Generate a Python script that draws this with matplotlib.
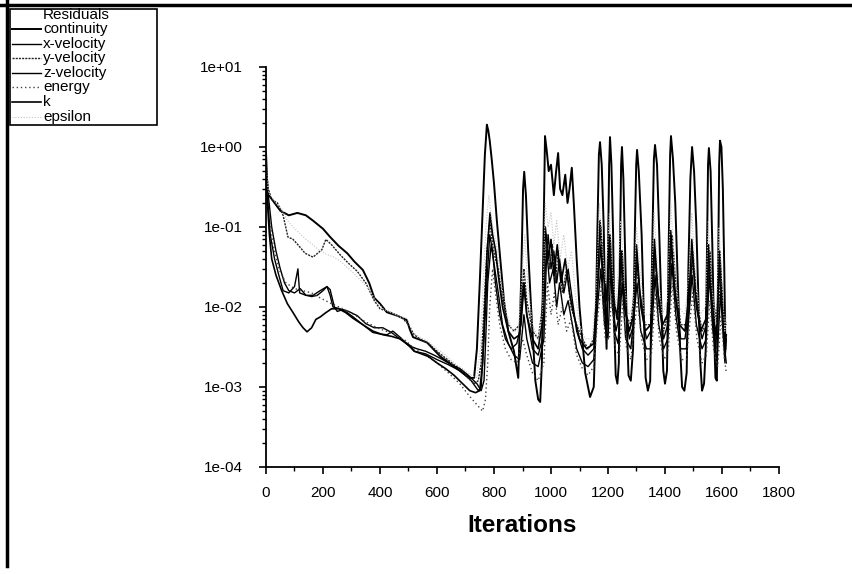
import matplotlib
matplotlib.use("Agg")
import matplotlib.pyplot as plt
from matplotlib.lines import Line2D
from matplotlib.patches import Rectangle
from matplotlib.ticker import LogLocator, FixedLocator, FuncFormatter, NullFormatter

plt.rcParams['font.family'] = ['Liberation Sans', 'DejaVu Sans']

# ---- residual histories (iteration, residual) ----
continuity_it = [0, 5, 10, 30, 50, 80, 110, 140, 165, 200, 225, 255, 285, 310, 340, 362, 380, 400,
                 424, 460, 494, 505, 516, 540, 565, 590, 612, 635, 660, 690, 715, 730, 740, 750, 760,
                 768, 775, 780, 785, 792, 800, 810, 822, 835, 850, 870, 885, 895, 902, 906, 912, 920,
                 930, 945, 955, 962, 968, 973, 979, 985, 992, 1000, 1010, 1018, 1025, 1032, 1040,
                 1050, 1058, 1065, 1073, 1080, 1090, 1100, 1120, 1137, 1150, 1157, 1163, 1168, 1172,
                 1178, 1185, 1190, 1195, 1200, 1204, 1207, 1212, 1218, 1222, 1227, 1233, 1238, 1242,
                 1246, 1249, 1254, 1260, 1266, 1272, 1280, 1288, 1294, 1299, 1302, 1308, 1318, 1326,
                 1332, 1340, 1348, 1355, 1361, 1365, 1372, 1380, 1388, 1394, 1400, 1407, 1413, 1418,
                 1421, 1428, 1436, 1445, 1453, 1460, 1468, 1476, 1482, 1489, 1495, 1502, 1510, 1518,
                 1524, 1530, 1537, 1543, 1548, 1551, 1554, 1560, 1566, 1572, 1577, 1582, 1586, 1590,
                 1593, 1598, 1603, 1608, 1612]
continuity = [0.85, 0.3, 0.25, 0.2, 0.16, 0.14, 0.15, 0.14, 0.12, 0.095, 0.075, 0.058, 0.047, 0.037,
              0.029, 0.02, 0.013, 0.011, 0.0086, 0.0078, 0.0069, 0.0052, 0.0042, 0.0039, 0.0036,
              0.0029, 0.0024, 0.0021, 0.0018, 0.0015, 0.0013, 0.0013, 0.003, 0.02, 0.15, 0.8, 1.9,
              1.6, 1.2, 0.7, 0.35, 0.12, 0.04, 0.012, 0.005, 0.0028, 0.0013, 0.02, 0.3, 0.49, 0.25,
              0.05, 0.01, 0.0012, 0.0007, 0.00065, 0.002, 0.05, 1.37, 0.9, 0.5, 0.6, 0.25, 0.5, 0.84,
              0.3, 0.25, 0.45, 0.2, 0.3, 0.55, 0.2, 0.04, 0.01, 0.0015, 0.00075, 0.001, 0.006, 0.1,
              0.8, 1.15, 0.6, 0.1, 0.01, 0.003, 0.05, 0.6, 1.33, 0.6, 0.08, 0.006, 0.0014, 0.0011,
              0.002, 0.05, 0.6, 1.0, 0.4, 0.05, 0.006, 0.0014, 0.0012, 0.003, 0.08, 0.6, 0.92, 0.5,
              0.08, 0.008, 0.0013, 0.0009, 0.0012, 0.05, 0.7, 1.06, 0.6, 0.08, 0.008, 0.0016, 0.0011,
              0.0016, 0.06, 0.8, 1.37, 0.7, 0.2, 0.02, 0.003, 0.001, 0.0009, 0.0015, 0.03, 0.4, 1.0,
              0.5, 0.1, 0.01, 0.002, 0.0009, 0.0011, 0.003, 0.08, 0.6, 0.97, 0.5, 0.06, 0.005, 0.0013,
              0.0012, 0.02, 0.6, 1.2, 1.0, 0.3, 0.03, 0.003]

xvel_it = [0, 5, 15, 30, 45, 60, 80, 100, 112, 118, 140, 165, 190, 214, 225, 235, 260, 285, 306, 340,
           375, 400, 425, 445, 470, 500, 520, 560, 600, 640, 680, 720, 745, 755, 765, 775, 785, 795,
           805, 820, 840, 860, 880, 895, 906, 915, 935, 955, 970, 980, 990, 1000, 1010, 1020, 1030,
           1045, 1060, 1075, 1090, 1110, 1130, 1150, 1165, 1175, 1185, 1195, 1207, 1215, 1228, 1240,
           1250, 1260, 1275, 1290, 1302, 1315, 1335, 1350, 1365, 1378, 1395, 1410, 1422, 1435, 1455,
           1470, 1485, 1497, 1510, 1530, 1545, 1555, 1565, 1578, 1590, 1600, 1610, 1615]
xvel = [0.5, 0.25, 0.08, 0.04, 0.025, 0.016, 0.015, 0.018, 0.03, 0.015, 0.014, 0.014, 0.016, 0.018,
        0.014, 0.01, 0.0095, 0.0085, 0.0075, 0.006, 0.0048, 0.0046, 0.0045, 0.005, 0.0042, 0.0033,
        0.0028, 0.0026, 0.0022, 0.0019, 0.0016, 0.0012, 0.0009, 0.001, 0.004, 0.02, 0.08, 0.05, 0.02,
        0.008, 0.004, 0.003, 0.0035, 0.006, 0.02, 0.008, 0.003, 0.0025, 0.004, 0.03, 0.08, 0.03, 0.05,
        0.02, 0.04, 0.015, 0.03, 0.012, 0.005, 0.003, 0.0025, 0.003, 0.02, 0.06, 0.01, 0.006, 0.05,
        0.01, 0.005, 0.008, 0.05, 0.01, 0.004, 0.006, 0.04, 0.01, 0.004, 0.005, 0.05, 0.012, 0.004,
        0.006, 0.06, 0.015, 0.004, 0.004, 0.01, 0.05, 0.01, 0.004, 0.006, 0.04, 0.008, 0.003, 0.03,
        0.01, 0.002, 0.004]

yvel_it = [0, 8, 20, 40, 60, 77, 95, 112, 137, 165, 196, 210, 230, 260, 290, 320, 350, 380, 400, 420,
           440, 460, 480, 500, 520, 540, 570, 600, 630, 660, 690, 710, 730, 745, 755, 765, 775, 785,
           795, 805, 815, 830, 850, 870, 890, 905, 915, 935, 955, 970, 985, 995, 1005, 1015, 1025,
           1040, 1055, 1070, 1090, 1110, 1130, 1150, 1165, 1175, 1188, 1200, 1210, 1222, 1235, 1250,
           1262, 1280, 1300, 1312, 1330, 1350, 1365, 1378, 1395, 1410, 1425, 1438, 1455, 1475, 1490,
           1500, 1512, 1530, 1545, 1558, 1570, 1585, 1595, 1605, 1615]
yvel = [0.6, 0.3, 0.22, 0.2, 0.14, 0.075, 0.07, 0.06, 0.047, 0.042, 0.052, 0.07, 0.06, 0.045, 0.035,
        0.028, 0.02, 0.012, 0.0095, 0.009, 0.0085, 0.0078, 0.0072, 0.006, 0.0045, 0.004, 0.0035,
        0.0028, 0.0023, 0.0019, 0.0016, 0.0013, 0.0011, 0.0012, 0.002, 0.01, 0.05, 0.12, 0.06, 0.04,
        0.03, 0.012, 0.006, 0.005, 0.006, 0.03, 0.012, 0.005, 0.004, 0.01, 0.08, 0.03, 0.06, 0.02,
        0.05, 0.015, 0.03, 0.01, 0.006, 0.004, 0.003, 0.004, 0.03, 0.1, 0.02, 0.012, 0.04, 0.01,
        0.008, 0.03, 0.008, 0.006, 0.03, 0.015, 0.006, 0.006, 0.04, 0.01, 0.005, 0.008, 0.08, 0.02,
        0.006, 0.006, 0.02, 0.04, 0.012, 0.005, 0.006, 0.05, 0.012, 0.005, 0.03, 0.008, 0.006]

zvel_it = [0, 8, 20, 35, 50, 65, 80, 100, 120, 140, 160, 180, 200, 214, 225, 240, 250, 270, 290, 320,
           350, 380, 410, 440, 470, 500, 530, 560, 590, 620, 650, 680, 710, 740, 755, 765, 772, 778,
           790, 800, 815, 830, 850, 870, 890, 905, 915, 935, 955, 975, 985, 995, 1008, 1020, 1030,
           1045, 1060, 1075, 1090, 1110, 1130, 1150, 1165, 1175, 1188, 1200, 1210, 1222, 1235, 1250,
           1262, 1280, 1302, 1315, 1335, 1350, 1365, 1378, 1395, 1410, 1424, 1438, 1455, 1475, 1495,
           1510, 1530, 1545, 1556, 1568, 1582, 1595, 1605, 1615]
zvel = [0.4, 0.25, 0.1, 0.05, 0.03, 0.02, 0.016, 0.015, 0.017, 0.014, 0.0135, 0.014, 0.016, 0.018,
        0.0165, 0.01, 0.0088, 0.0093, 0.0088, 0.0078, 0.0062, 0.0055, 0.0055, 0.0048, 0.004, 0.0033,
        0.003, 0.0028, 0.0025, 0.0022, 0.0019, 0.0017, 0.0014, 0.0011, 0.0009, 0.0012, 0.005, 0.02,
        0.06, 0.035, 0.015, 0.006, 0.0035, 0.0025, 0.0022, 0.008, 0.004, 0.002, 0.0018, 0.004, 0.05,
        0.02, 0.03, 0.01, 0.02, 0.008, 0.012, 0.006, 0.003, 0.002, 0.0018, 0.0022, 0.012, 0.03, 0.006,
        0.004, 0.03, 0.005, 0.0035, 0.02, 0.004, 0.003, 0.02, 0.005, 0.003, 0.003, 0.025, 0.006,
        0.003, 0.004, 0.035, 0.008, 0.003, 0.003, 0.025, 0.006, 0.003, 0.004, 0.025, 0.005, 0.002,
        0.015, 0.004, 0.002]

energy_it = [0, 10, 25, 45, 70, 100, 130, 160, 190, 230, 270, 310, 350, 390, 420, 450, 490, 520, 560,
             600, 640, 680, 710, 740, 760, 770, 778, 785, 795, 805, 820, 840, 860, 880, 900, 915, 935,
             955, 975, 988, 1000, 1012, 1025, 1040, 1055, 1070, 1090, 1110, 1130, 1150, 1165, 1177,
             1190, 1205, 1212, 1225, 1240, 1252, 1265, 1280, 1303, 1318, 1335, 1352, 1367, 1380, 1398,
             1412, 1425, 1440, 1458, 1475, 1497, 1512, 1530, 1545, 1557, 1570, 1585, 1597, 1607, 1615]
energy = [0.3, 0.15, 0.06, 0.03, 0.02, 0.017, 0.016, 0.015, 0.013, 0.011, 0.0095, 0.008, 0.0065,
          0.0055, 0.005, 0.0045, 0.0038, 0.003, 0.0025, 0.002, 0.0015, 0.0011, 0.0008, 0.0006, 0.0005,
          0.0007, 0.002, 0.01, 0.03, 0.015, 0.006, 0.003, 0.0022, 0.002, 0.004, 0.0025, 0.0015, 0.0012,
          0.002, 0.02, 0.008, 0.015, 0.006, 0.01, 0.005, 0.007, 0.0025, 0.0017, 0.0014, 0.0018, 0.008,
          0.02, 0.004, 0.004, 0.015, 0.003, 0.0025, 0.012, 0.003, 0.0022, 0.012, 0.004, 0.0022, 0.0025,
          0.015, 0.004, 0.0022, 0.003, 0.02, 0.005, 0.0022, 0.0022, 0.015, 0.004, 0.002, 0.0025, 0.012,
          0.003, 0.0018, 0.008, 0.0025, 0.0015]

k_it = [0, 5, 12, 20, 35, 55, 75, 95, 115, 130, 144, 160, 175, 190, 210, 230, 255, 280, 306, 340, 375,
        410, 440, 470, 505, 520, 545, 570, 600, 630, 660, 690, 715, 735, 750, 760, 768, 776, 786, 795,
        806, 815, 830, 850, 870, 890, 904, 915, 935, 955, 968, 980, 990, 1000, 1010, 1022, 1035, 1050,
        1065, 1080, 1100, 1125, 1150, 1163, 1172, 1182, 1195, 1207, 1218, 1232, 1247, 1258, 1275,
        1290, 1300, 1312, 1330, 1350, 1363, 1375, 1392, 1408, 1420, 1432, 1450, 1470, 1485, 1494,
        1506, 1525, 1543, 1553, 1565, 1580, 1592, 1602, 1610, 1615]
k = [0.3, 0.2, 0.08, 0.04, 0.025, 0.016, 0.011, 0.0085, 0.0065, 0.0055, 0.0049, 0.0055, 0.007, 0.0075,
     0.0085, 0.0095, 0.0095, 0.0085, 0.0072, 0.006, 0.005, 0.0045, 0.0043, 0.004, 0.0033, 0.0028,
     0.0026, 0.0024, 0.002, 0.0017, 0.0014, 0.0011, 0.0009, 0.00085, 0.0009, 0.002, 0.01, 0.05, 0.15,
     0.08, 0.05, 0.025, 0.01, 0.005, 0.004, 0.0045, 0.02, 0.008, 0.004, 0.003, 0.006, 0.1, 0.04, 0.07,
     0.025, 0.06, 0.02, 0.04, 0.015, 0.008, 0.004, 0.003, 0.0035, 0.02, 0.12, 0.03, 0.012, 0.08,
     0.015, 0.007, 0.05, 0.01, 0.005, 0.008, 0.06, 0.015, 0.005, 0.006, 0.07, 0.015, 0.006, 0.008,
     0.09, 0.02, 0.006, 0.005, 0.015, 0.07, 0.015, 0.005, 0.007, 0.06, 0.012, 0.004, 0.05, 0.01, 0.003,
     0.0045]

epsilon_it = [0, 4, 10, 20, 35, 55, 75, 95, 115, 140, 165, 190, 215, 240, 270, 300, 330, 360, 385, 410,
              440, 470, 495, 515, 540, 570, 600, 630, 660, 690, 720, 740, 752, 762, 772, 782, 792, 802,
              812, 825, 845, 865, 885, 900, 908, 918, 935, 955, 970, 980, 990, 1000, 1010, 1020, 1032,
              1045, 1058, 1072, 1085, 1100, 1120, 1145, 1160, 1170, 1180, 1192, 1205, 1215, 1228, 1245,
              1257, 1272, 1288, 1300, 1312, 1328, 1348, 1362, 1374, 1390, 1408, 1420, 1432, 1448, 1470,
              1485, 1494, 1505, 1522, 1542, 1552, 1563, 1578, 1590, 1600, 1610, 1615]
epsilon = [0.85, 0.35, 0.26, 0.24, 0.2, 0.17, 0.12, 0.1, 0.085, 0.07, 0.06, 0.05, 0.045, 0.042, 0.035,
           0.028, 0.022, 0.017, 0.012, 0.0095, 0.0085, 0.0075, 0.0072, 0.0048, 0.0042, 0.0037, 0.003,
           0.0025, 0.002, 0.0017, 0.0014, 0.0013, 0.003, 0.02, 0.1, 0.25, 0.12, 0.08, 0.05, 0.02, 0.008,
           0.005, 0.005, 0.03, 0.08, 0.02, 0.006, 0.004, 0.008, 0.2, 0.1, 0.15, 0.06, 0.12, 0.04, 0.08,
           0.03, 0.05, 0.015, 0.006, 0.004, 0.004, 0.02, 0.2, 0.05, 0.02, 0.15, 0.03, 0.01, 0.12, 0.02,
           0.008, 0.01, 0.1, 0.03, 0.008, 0.008, 0.15, 0.03, 0.008, 0.012, 0.2, 0.04, 0.01, 0.008, 0.03,
           0.15, 0.03, 0.008, 0.01, 0.12, 0.02, 0.006, 0.1, 0.02, 0.005, 0.008]

series_names = ["continuity", "x-velocity", "y-velocity", "z-velocity", "energy", "k", "epsilon"]
legend_title = "Residuals"
x_ticks = [0, 200, 400, 600, 800, 1000, 1200, 1400, 1600, 1800]
y_ticks = [1e-4, 1e-3, 1e-2, 1e-1, 1e0, 1e1]

# ---- figure ----
W, H = 853, 574
fig = plt.figure(figsize=(W / 100, H / 100), dpi=100)
ax = fig.add_axes([266 / W, 1 - 467 / H, (779 - 266) / W, (467 - 67) / H])

styles = [
    dict(color="black", lw=1.4, ls="-"),
    dict(color="black", lw=1.0, ls="-"),
    dict(color="#222222", lw=1.0, ls=(0, (1.5, 0.8))),
    dict(color="black", lw=1.0, ls="-"),
    dict(color="#444444", lw=1.0, ls=(0, (1, 2))),
    dict(color="black", lw=1.2, ls="-"),
    dict(color="#c4c4c4", lw=0.8, ls=(0, (1, 1.5))),
]
data = [(continuity_it, continuity), (xvel_it, xvel), (yvel_it, yvel), (zvel_it, zvel),
        (energy_it, energy), (k_it, k), (epsilon_it, epsilon)]

for name, (xs, ys), st in zip(series_names, data, styles):
    ax.plot(xs, ys, label=name, **st)

ax.set_yscale("log")
ax.set_xlim(0, 1800)
ax.set_ylim(1e-4, 1e1)

ax.xaxis.set_major_locator(FixedLocator(x_ticks))
ax.xaxis.set_minor_locator(FixedLocator([v + 100 for v in x_ticks[:-1]]))
ax.yaxis.set_major_locator(FixedLocator(y_ticks))
ax.yaxis.set_minor_locator(LogLocator(base=10, subs=(2, 3, 4, 5, 6, 7, 8, 9), numticks=20))
ax.yaxis.set_minor_formatter(NullFormatter())
ax.yaxis.set_major_formatter(FuncFormatter(lambda v, p: f"{v:.0e}"))

for side in ("top", "right"):
    ax.spines[side].set_visible(False)
for side in ("left", "bottom"):
    ax.spines[side].set_linewidth(1.3)

ax.tick_params(axis="both", which="major", direction="out", length=5, width=1.2,
               labelsize=11, colors="black")
ax.tick_params(axis="y", which="major", pad=12)
ax.tick_params(axis="x", which="major", pad=9)
ax.tick_params(axis="both", which="minor", direction="out", length=3, width=1.0)

ax.set_xlabel("Iterations", fontsize=17.5, fontweight="bold", labelpad=10)

# legend box in the upper-left corner of the page (pixel layout, y measured from top)
def px(x, y):
    return x / W, 1 - y / H

x0, y0 = px(10, 9)
x1, y1 = px(157, 125)
fig.add_artist(Rectangle((x0, y1), x1 - x0, y0 - y1, transform=fig.transFigure,
                         facecolor="white", edgecolor="black", lw=1.2, zorder=5))
tx, ty = px(43, 15)
fig.text(tx, ty, legend_title, fontsize=11, va="center", ha="left", zorder=6)
for i, (name, st) in enumerate(zip(series_names, styles)):
    yy = 29 + i * 14.6
    lx0, ly = px(12, yy)
    lx1, _ = px(41, yy)
    fig.add_artist(Line2D([lx0, lx1], [ly, ly], transform=fig.transFigure, zorder=6, **st))
    fig.text(px(43, yy)[0], ly, name, fontsize=11, va="center", ha="left", zorder=6)

# page border lines along the top and the left edge
fig.add_artist(Line2D([0, 1], [1 - 5 / H, 1 - 5 / H], color="black", lw=2.5,
                      transform=fig.transFigure))
fig.add_artist(Line2D([7 / W, 7 / W], [1 - 566 / H, 1], color="black", lw=2.5,
                      transform=fig.transFigure))

fig.savefig("out.png", dpi=100)
